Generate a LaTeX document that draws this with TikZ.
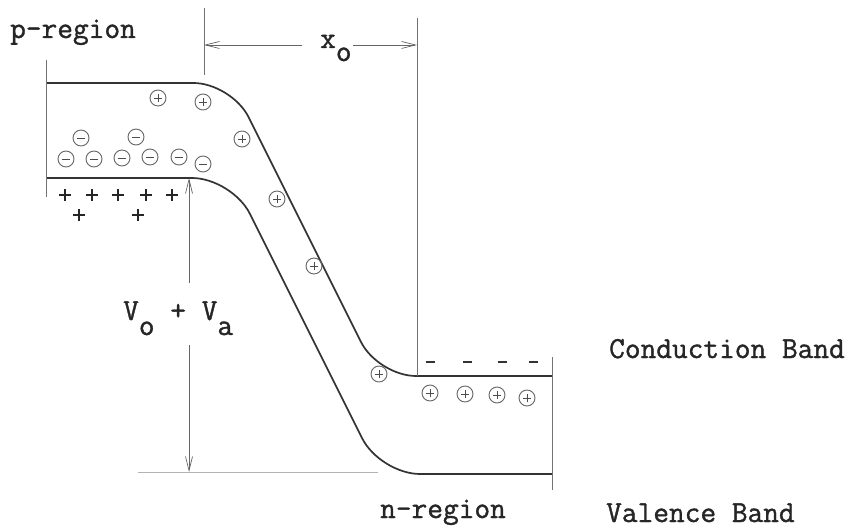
\documentclass[tikz,border=0pt]{standalone}
\usepackage{fontspec}
\newfontfamily\typewr{Latin Modern Mono}[FakeBold=1.2]
\usetikzlibrary{arrows.meta}
\begin{document}
\begin{tikzpicture}[x=1pt,y=-1pt,
  band/.style={line width=1.7pt, draw=black!80},
  guide/.style={line width=0.7pt, draw=black!55},
  faint/.style={line width=0.7pt, draw=black!30},
  lbl/.style={inner sep=0, anchor=base west, font=\fontsize{30.5}{36}\typewr\bfseries, text=black!85},
  dimarrow/.style={line width=0.7pt, draw=black!60, -{Straight Barb[length=14pt,width=7pt]}},
  hole/.style={circle, draw=black!60, line width=0.9pt, minimum size=16pt, inner sep=0,
    path picture={\draw[black!70,line width=0.8pt]
      ([xshift=-4pt]path picture bounding box.center)--([xshift=4pt]path picture bounding box.center)
      ([yshift=-4pt]path picture bounding box.center)--([yshift=4pt]path picture bounding box.center);}},
  elec/.style={circle, draw=black!60, line width=0.9pt, minimum size=16pt, inner sep=0,
    path picture={\draw[black!70,line width=0.8pt]
      ([xshift=-4pt]path picture bounding box.center)--([xshift=4pt]path picture bounding box.center);}},
  donor/.style={minimum size=13pt, inner sep=0,
    path picture={\draw[black!85,line width=1.3pt]
      ([xshift=-6pt]path picture bounding box.center)--([xshift=6pt]path picture bounding box.center)
      ([yshift=-6pt]path picture bounding box.center)--([yshift=6pt]path picture bounding box.center);}},
  negmark/.style={minimum width=10pt, minimum height=4pt, inner sep=0,
    path picture={\draw[black!80,line width=1.2pt]
      ([xshift=-4.5pt]path picture bounding box.center)--([xshift=4.5pt]path picture bounding box.center);}},
]
\useasboundingbox (0,0) rectangle (859,529);
\fill[white] (0,0) rectangle (859,529);

% labels
\node[lbl] (preg) at (10,38) {p-region};
\node[lbl] (cond) at (609,358) {Conduction Band};
\node[lbl] (val) at (606,522) {Valence Band};
\node[lbl] (nreg) at (380,518) {n-region};
\node[lbl] (vlab) at (123,320) {V\raisebox{-15pt}{o} + V\raisebox{-15pt}{a}};
\node[lbl] (xlab) at (320,48) {x\raisebox{-13pt}{o}};

% bands
\draw[band, rounded corners=38pt] (46,83) -- (231.5,83) -- (378,376) -- (552,376);
\draw[band, rounded corners=40pt] (46,178) -- (232,178) -- (380,474) -- (552,474);

% guide lines
\draw[guide] (46,60) -- (46,197);
\draw[guide] (552,357) -- (552,490);
\draw[guide] (204,8) -- (204,75);
\draw[guide] (417,18) -- (417,376);
\draw[faint] (138,472) -- (378,472);

% dimension x_o
\coordinate (xl) at (204,45);
\coordinate (xr) at (417,45);
\coordinate (xla) at (302,45);
\coordinate (xra) at (353,45);
\draw[dimarrow] (xla) -- (xl);
\draw[dimarrow] (xra) -- (xr);

% dimension V_o + V_a
\coordinate (vt) at (189,178);
\coordinate (vb) at (189,472);
\coordinate (vta) at (189,283);
\coordinate (vba) at (189,345);
\draw[dimarrow] (vta) -- (vt);
\draw[dimarrow] (vba) -- (vb);

% electrons (p side)
\node[elec] (e1) at (81,138) {};
\node[elec] (e2) at (136,137) {};
\node[elec] (e3) at (66,159) {};
\node[elec] (e4) at (94,159) {};
\node[elec] (e5) at (122,158) {};
\node[elec] (e6) at (150,157) {};
\node[elec] (e7) at (179,157) {};
\node[elec] (e8) at (203,164) {};

% holes
\node[hole] (h1) at (158,98) {};
\node[hole] (h2) at (203,102) {};
\node[hole] (h3) at (242,139) {};
\node[hole] (h4) at (277,199) {};
\node[hole] (h5) at (314,266) {};
\node[hole] (h6) at (379,374) {};
\node[hole] (h7) at (430,393) {};
\node[hole] (h8) at (465,394) {};
\node[hole] (h9) at (497,395) {};
\node[hole] (h10) at (527,398) {};

% fixed positive charges
\node[donor] (d1) at (65,195) {};
\node[donor] (d2) at (92,195) {};
\node[donor] (d3) at (118,195) {};
\node[donor] (d4) at (146,195) {};
\node[donor] (d5) at (172,195) {};
\node[donor] (d6) at (79,215) {};
\node[donor] (d7) at (138,215) {};

% fixed negative charges
\node[negmark] (n1) at (430,362) {};
\node[negmark] (n2) at (467,362) {};
\node[negmark] (n3) at (502,362) {};
\node[negmark] (n4) at (533,362) {};
\end{tikzpicture}
\end{document}
